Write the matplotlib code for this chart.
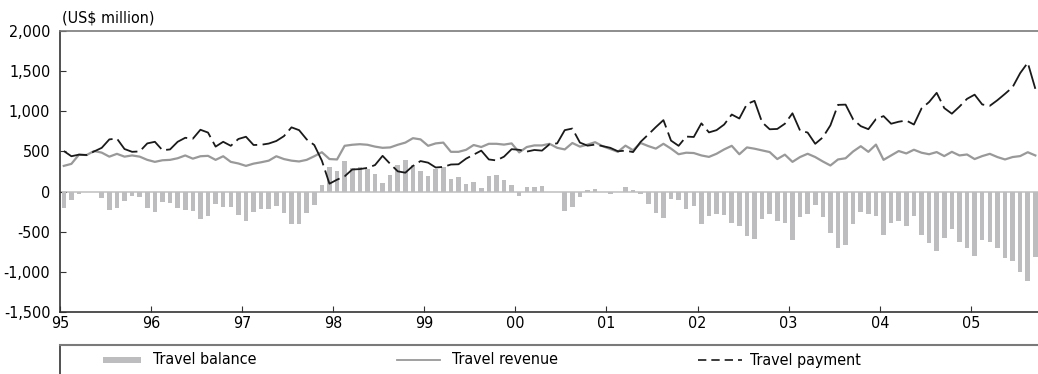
import numpy as np
import matplotlib
matplotlib.use("Agg")
import matplotlib.pyplot as plt
from matplotlib.patches import Rectangle
from matplotlib.lines import Line2D
from matplotlib import font_manager

plt.rcParams['font.family'] = ['Liberation Sans Narrow', 'DejaVu Sans']
plt.rcParams['font.stretch'] = 'condensed'
print(sorted({f.name for f in font_manager.fontManager.ttflist}))
print([(f.name, f.stretch, f.fname) for f in font_manager.fontManager.ttflist if 'Narrow' in f.fname or 'Condensed' in f.fname])

# Monthly data, Jan 1995 - Sep 2005 (US$ million)
balance = [
    -208, -100, -30, -10, -8, -83, -230, -204, -120, -50, -70, -208,      # 95
    -258, -133, -140, -208, -230, -246, -342, -308, -158, -196, -196, -292,  # 96
    -367, -250, -217, -217, -179, -267, -404, -400, -271, -163, 88, 305,  # 97
    255, 380, 290, 305, 278, 217, 105, 205, 330, 390, 330, 250,           # 98
    200, 280, 300, 155, 177, 94, 117, 42, 194, 206, 142, 79,              # 99
    -55, 52, 52, 67, 0, 0, -242, -192, -70, 15, 27, 0,                     # 00
    -30, -8, 52, 23, -25, -152, -267, -327, -96, -108, -221, -179,        # 01
    -406, -304, -282, -292, -392, -429, -552, -590, -346, -282, -367, -392,  # 02
    -602, -313, -275, -163, -313, -513, -704, -667, -400, -254, -279, -304,  # 03
    -546, -388, -363, -425, -304, -546, -638, -738, -575, -463, -625, -700,  # 04
    -800, -600, -625, -700, -825, -863, -1005, -1115, -815,               # 05
]
revenue = [
    320, 345, 460, 455, 505, 485, 435, 470, 435, 450, 435, 395,
    370, 390, 395, 415, 450, 410, 440, 445, 395, 440, 370, 350,
    320, 348, 365, 385, 440, 405, 385, 375, 395, 440, 490, 405,
    400, 570, 583, 590, 583, 560, 545, 550, 583, 610, 665, 650,
    570, 600, 610, 495, 495, 520, 580, 555, 595, 595, 585, 600,
    488, 555, 575, 575, 595, 545, 525, 605, 560, 585, 615, 565,
    530, 495, 572, 515, 605, 567, 535, 595, 535, 465, 484, 480,
    450, 432, 471, 525, 570, 465, 550, 534, 513, 492, 405, 460,
    370, 430, 471, 430, 375, 325, 400, 415, 500, 565, 495, 585,
    395, 450, 505, 475, 521, 484, 465, 492, 442, 495, 450, 462,
    405, 442, 470, 430, 400, 430, 442, 490, 450,
]
payment = [
    505, 440, 460, 455, 500, 545, 650, 660, 530, 495, 500, 600,
    620, 515, 525, 620, 670, 658, 770, 735, 560, 620, 570, 655,
    683, 580, 583, 598, 630, 690, 800, 765, 650, 580, 385, 98,
    148, 190, 275, 280, 295, 330, 445, 345, 252, 235, 320, 380,
    360, 300, 307, 337, 340, 410, 460, 510, 400, 388, 435, 528,
    520, 498, 518, 510, 590, 600, 765, 785, 610, 572, 585, 566,
    545, 502, 510, 492, 620, 710, 803, 890, 635, 570, 685, 680,
    850, 737, 765, 835, 960, 910, 1090, 1130, 863, 776, 780, 845,
    975, 760, 735, 595, 675, 825, 1080, 1083, 898, 815, 777, 903,
    940, 845, 870, 885, 835, 1035, 1115, 1230, 1040, 970, 1058, 1155,
    1207, 1085, 1068, 1138, 1217, 1300, 1475, 1605, 1280,
]
year_ticks = list(range(1995, 2006))
year_labels = ['95', '96', '97', '98', '99', '00', '01', '02', '03', '04', '05']
legend_labels = ['Travel balance', 'Travel revenue', 'Travel payment']

x = 1995 + (np.arange(len(balance)) + 0.5) / 12

fig = plt.figure(figsize=(10.38, 3.74), dpi=100)
ax = fig.add_axes([60 / 1038, 1 - 312 / 374, 1 - 60 / 1038, 281 / 374])

bar_c = '#bdbdc0'
rev_c = '#999999'
pay_c = '#1a1a1a'

ax.axhline(0, color='#c4c4c4', lw=1.2, zorder=1)
ax.bar(x, balance, width=0.05, color=bar_c, zorder=2)
ax.plot(x, revenue, color=rev_c, lw=1.6, zorder=3)
ax.plot(x, payment, color=pay_c, lw=1.3, ls=(0, (14, 3)), zorder=4)

ax.set_xlim(1995, 1995 + 128.85 / 12)
ax.set_ylim(-1500, 2000)
ax.set_xticks(year_ticks)
ax.set_xticklabels(year_labels)
ax.set_yticks(range(-1500, 2001, 500))
ax.set_yticklabels([f'{v:,}' for v in range(-1500, 2001, 500)])
ax.tick_params(direction='in', length=4, color='#333333', labelsize=11.5, pad=3)
ax.tick_params(axis='y', pad=7)
ax.spines['right'].set_visible(False)
ax.spines['top'].set_color('#7a7a7a')
ax.spines['left'].set_color('#333333')
ax.spines['bottom'].set_color('#333333')
for s in ['top', 'left', 'bottom']:
    ax.spines[s].set_linewidth(1.2)

fig.text(62 / 1038, 1 - 18 / 374, '(US$ million)', fontsize=11.5, va='center', ha='left')

# legend box under the chart
lax = fig.add_axes([60 / 1038, 0, 1 - 60 / 1038, 29 / 374])
lax.set_xlim(60, 1038)
lax.set_ylim(0, 29)
lax.set_xticks([])
lax.set_yticks([])
lax.spines['right'].set_visible(False)
lax.spines['bottom'].set_visible(False)
lax.spines['top'].set_color('#7a7a7a')
lax.spines['top'].set_linewidth(1.5)
lax.spines['left'].set_color('#333333')
lax.spines['left'].set_linewidth(1.2)
lax.add_patch(Rectangle((103, 11), 38, 6, color=bar_c, lw=0))
lax.add_line(Line2D([397, 440], [14, 14], color=rev_c, lw=1.3))
lax.add_line(Line2D([698, 742], [14, 14], color=pay_c, lw=1.2, ls=(0, (5, 3))))
for xpos, lab in zip([153, 452, 750], legend_labels):
    lax.text(xpos, 14, lab, fontsize=11.5, va='center', ha='left')

fig.savefig('out.png', dpi=100)
